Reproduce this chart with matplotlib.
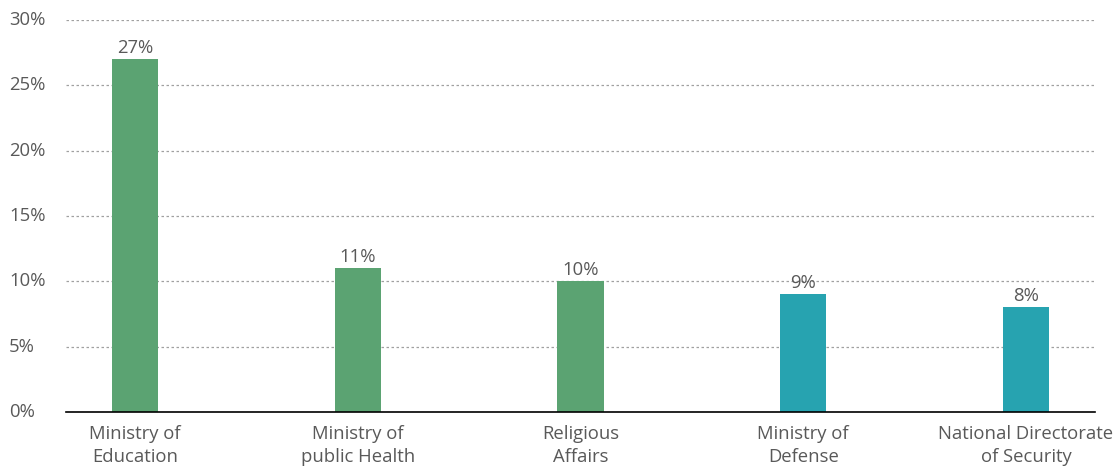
import matplotlib
matplotlib.use("Agg")
import matplotlib.pyplot as plt
import numpy as np

# Share of budget by institution
categories = ["Ministry of\nEducation", "Ministry of\npublic Health", "Religious\nAffairs",
              "Ministry of\nDefense", "National Directorate\nof Security"]
values = [27, 11, 10, 9, 8]
colors = ["#5ba372", "#5ba372", "#5ba372", "#27a3b0", "#27a3b0"]
yticks = [0, 5, 10, 15, 20, 25, 30]

plt.rcParams['font.family'] = ['Open Sans', 'DejaVu Sans']
textcol = "#595959"
fs = 13.3

fig = plt.figure(figsize=(11.15, 4.73), dpi=100)
ax = fig.add_axes([66/1115, 1 - 412/473, (1095-66)/1115, (412-20)/473])

x = np.arange(len(values))
bars = ax.bar(x, values, width=0.207, color=colors, zorder=3)

for b, v in zip(bars, values):
    ax.text(b.get_x() + b.get_width()/2, v + 0.2, f"{v}%", ha="center", va="bottom",
            fontsize=fs, color=textcol, zorder=4)

ax.set_xlim(-0.31, 4.31)
ax.set_ylim(0, 30)
ax.set_yticks(yticks)
ax.set_yticklabels([f"{t}%" for t in yticks])
ax.set_xticks(x)
ax.set_xticklabels(categories, linespacing=1.38)

for lab in ax.get_yticklabels():
    lab.set_horizontalalignment("left")
    lab.set_verticalalignment("center")
ax.tick_params(axis="y", length=0, pad=41, labelsize=fs, labelcolor=textcol)
ax.tick_params(axis="x", length=0, pad=9, labelsize=fs, labelcolor=textcol)

ax.yaxis.grid(True, linestyle=(0, (2, 2)), color="#a0a0a0", linewidth=0.9, zorder=0)
for s in ["top", "right", "left"]:
    ax.spines[s].set_visible(False)
ax.spines["bottom"].set_color("black")
ax.spines["bottom"].set_linewidth(1.2)
ax.spines["bottom"].set_zorder(5)

plt.savefig("out.png", dpi=100)
